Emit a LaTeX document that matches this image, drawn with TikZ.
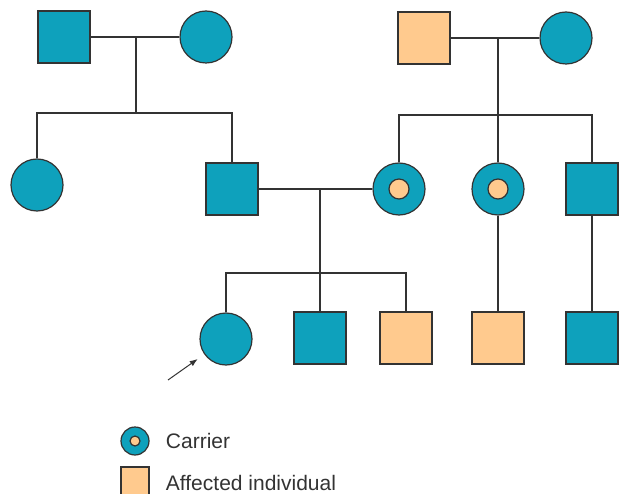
\documentclass[tikz,border=0pt]{standalone}
\usepackage{fontspec}
\setmainfont{Liberation Sans}
\usetikzlibrary{arrows.meta}
\definecolor{pedteal}{HTML}{0EA1BC}
\definecolor{pedorange}{HTML}{FFCA8E}
\definecolor{pedline}{HTML}{333333}
\begin{document}
\begin{tikzpicture}[x=1pt,y=-1pt,line width=1.2pt,draw=pedline,
    male/.style={draw=pedline,fill=#1,minimum size=52pt,inner sep=0pt},
    female/.style={circle,draw=pedline,fill=#1,minimum size=52pt,inner sep=0pt},
    dot/.style={circle,draw=pedline,fill=pedorange,minimum size=#1,inner sep=0pt},
    legtext/.style={anchor=west,text=pedline,font=\fontsize{21}{25}\selectfont}]
  \useasboundingbox (0,0) rectangle (623,494);
  % generation I
  \node[male=pedteal] (GIa) at (64,37) {};
  \node[female=pedteal] (GIb) at (206,37) {};
  \node[male=pedorange] (GIc) at (424,38) {};
  \node[female=pedteal] (GId) at (566,38) {};
  % generation II
  \node[female=pedteal] (GIIa) at (37,185) {};
  \node[male=pedteal] (GIIb) at (232,189) {};
  \node[female=pedteal] (GIIc) at (399,189) {};
  \node[dot=20pt] (GIIcd) at (GIIc) {};
  \node[female=pedteal] (GIId) at (498,189) {};
  \node[dot=20pt] (GIIdd) at (GIId) {};
  \node[male=pedteal] (GIIe) at (592,189) {};
  % generation III
  \node[female=pedteal] (GIIIa) at (226,339) {};
  \node[male=pedteal] (GIIIb) at (320,338) {};
  \node[male=pedorange] (GIIIc) at (406,338) {};
  \node[male=pedorange] (GIIId) at (498,338) {};
  \node[male=pedteal] (GIIIe) at (592,338) {};
  % lines
  \coordinate (DA) at (136,37);
  \coordinate (SA) at (136,113);
  \draw (GIa) -- (GIb) (DA) -- (SA);
  \draw (GIIa.north) |- (SA) -| (GIIb.north);
  \coordinate (DB) at (498,38);
  \coordinate (SB) at (498,115);
  \draw (GIc) -- (GId) (DB) -- (GIId.north);
  \draw (GIIc.north) |- (SB) -| (GIIe.north);
  \coordinate (DC) at (320,189);
  \coordinate (SC) at (320,273);
  \draw (GIIb) -- (GIIc) (DC) -- (GIIIb.north);
  \draw (GIIIa.north) |- (SC) -| (GIIIc.north);
  \draw (GIId) -- (GIIId) (GIIe) -- (GIIIe);
  \coordinate (AR) at (168,380);
  \draw[-{Latex[length=8pt,width=6pt]},line width=1pt,shorten >=8pt] (AR) -- (GIIIa);
  % legend
  \node[female=pedteal,minimum size=28pt] (LC) at (135,441) {};
  \node[dot=10pt] (LCd) at (LC) {};
  \node[male=pedorange,minimum size=28pt] (LA) at (135,481) {};
  \node[legtext] (LCt) at (162,441) {Carrier};
  \node[legtext] (LAt) at (162,483) {Affected individual};
\end{tikzpicture}
\end{document}
